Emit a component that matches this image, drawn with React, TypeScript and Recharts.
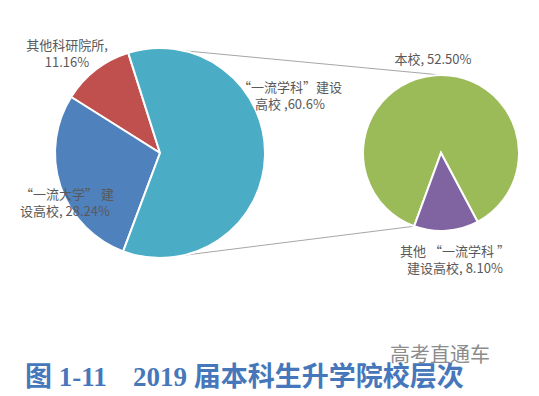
import { Cell, Customized, Pie, PieChart } from "recharts";

// 左饼：升学院校层次
const mainCategories = ["其他科研院所", "“一流大学”建设高校", "“一流学科”建设高校"];
const mainValues = [11.16, 28.24, 60.6];
const mainLabels = [
  ["其他科研院所,", "11.16%"],
  ["“一流大学” 建", "设高校, 28.24%"],
  ["“一流学科”建设", "高校 ,60.6%"],
];

// 右饼：“一流学科”建设高校 拆分
const subCategories = ["本校", "其他“一流学科”建设高校"];
const subValues = [52.5, 8.1];
const subLabels = [["本校, 52.50%"], ["其他 “一流学科 ”", "建设高校, 8.10%"]];

const MAIN_COLORS = ["#c0504d", "#4f81bd", "#4bacc6"];
const SUB_COLORS = ["#9bbb59", "#8064a2"];

const W = 539;
const H = 396;
const FONT = '"Noto Sans CJK SC", "Noto Sans", sans-serif';

const MAIN = { cx: 160, cy: 153, r: 105, start: 107.6 };
const SUB = { cx: 441, cy: 153, r: 78, start: -62 };

// 标签位置（x, 第一行基线, 对齐）
const MAIN_LABEL_POS: [number, number, "start" | "middle" | "end"][] = [
  [67, 50, "middle"],
  [20, 199, "start"],
  [290, 92, "middle"],
];
const SUB_LABEL_POS: [number, number, "start" | "middle" | "end"][] = [
  [433, 64, "middle"],
  [455, 256, "middle"],
];

const mainData = mainCategories.map((name, i) => ({ name, value: mainValues[i] }));
const subData = subCategories.map((name, i) => ({ name, value: subValues[i] }));

function LabelBlock({ lines, pos }: { lines: string[]; pos: [number, number, string] }) {
  const [x, y, anchor] = pos;
  return (
    <text x={x} y={y} textAnchor={anchor as any} fontSize={13} fill="#595959" fontFamily={FONT}>
      {lines.map((t, i) => (
        <tspan key={i} x={x} dy={i === 0 ? 0 : 17}>
          {t}
        </tspan>
      ))}
    </text>
  );
}

// 两饼之间的连接线
function Connectors() {
  const rad = (deg: number) => (deg * Math.PI) / 180;
  const pt = (c: typeof MAIN, clockFromTop: number) => ({
    x: c.cx + c.r * Math.sin(rad(clockFromTop)),
    y: c.cy - c.r * Math.cos(rad(clockFromTop)),
  });
  // 右饼紫色扇区左边界（顺时针自顶部）
  const subTotal = subValues.reduce((a, b) => a + b, 0);
  const purpleLeft = 90 - SUB.start + (subValues[1] / subTotal) * 360;
  const a1 = pt(MAIN, 13);
  const b1 = pt(SUB, 0);
  const a2 = pt(MAIN, 167);
  const b2 = pt(SUB, purpleLeft);
  return (
    <g stroke="#a6a6a6" strokeWidth={1}>
      <line x1={a1.x} y1={a1.y} x2={b1.x} y2={b1.y} />
      <line x1={a2.x} y1={a2.y} x2={b2.x} y2={b2.y} />
    </g>
  );
}

export default function App() {
  return (
    <div style={{ position: "absolute", left: 0, top: 0, width: W, height: H, background: "#fff" }}>
      <PieChart width={W} height={H} margin={{ top: 0, right: 0, bottom: 0, left: 0 }}>
        <Customized component={<Connectors />} />
        <Pie
          data={mainData}
          dataKey="value"
          nameKey="name"
          cx={MAIN.cx}
          cy={MAIN.cy}
          outerRadius={MAIN.r}
          startAngle={MAIN.start}
          endAngle={MAIN.start + 360}
          stroke="#ffffff"
          strokeWidth={2}
          labelLine={false}
          isAnimationActive={false}
        >
          {mainData.map((d, i) => (
            <Cell key={d.name} fill={MAIN_COLORS[i]} />
          ))}
        </Pie>
        <Pie
          data={subData}
          dataKey="value"
          nameKey="name"
          cx={SUB.cx}
          cy={SUB.cy}
          outerRadius={SUB.r}
          startAngle={SUB.start}
          endAngle={SUB.start + 360}
          stroke="#ffffff"
          strokeWidth={2}
          labelLine={false}
          isAnimationActive={false}
        >
          {subData.map((d, i) => (
            <Cell key={d.name} fill={SUB_COLORS[i]} />
          ))}
        </Pie>
      </PieChart>
      <svg
        width={W}
        height={H}
        style={{ position: "absolute", left: 0, top: 0, pointerEvents: "none" }}
      >
        {mainLabels.map((l, i) => (
          <LabelBlock key={"m" + i} lines={l} pos={MAIN_LABEL_POS[i]} />
        ))}
        {subLabels.map((l, i) => (
          <LabelBlock key={"s" + i} lines={l} pos={SUB_LABEL_POS[i]} />
        ))}
        <text x={390} y={362} fontSize={20} fill="#8c8c8c" fontFamily={FONT}>
          高考直通车
        </text>
        <g
          fill="#4677ba"
          fontWeight="bold"
          fontSize={27}
          fontFamily={'"Liberation Serif", "Noto Sans CJK SC", serif'}
        >
          <text x={25} y={386}>图 1-11</text>
          <text x={133} y={386}>2019 届本科生升学院校层次</text>
        </g>
      </svg>
    </div>
  );
}
